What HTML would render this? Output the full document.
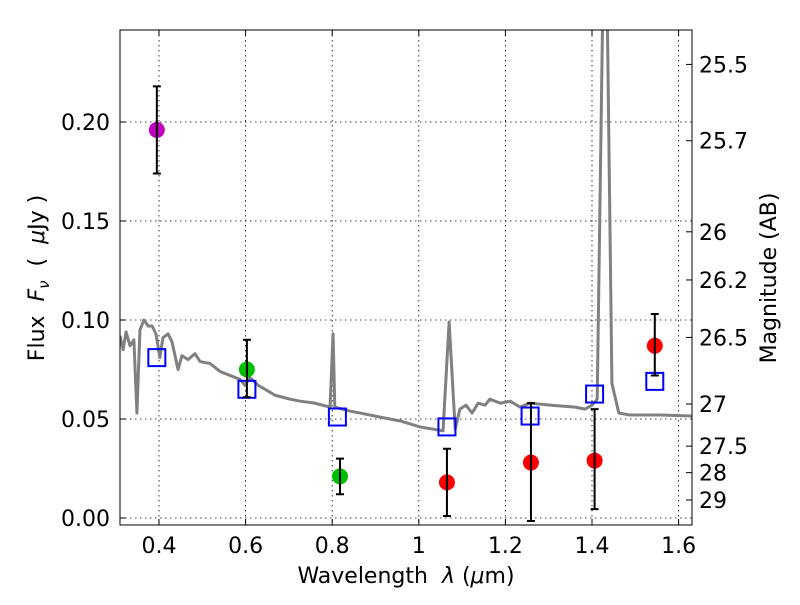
<!DOCTYPE html>
<html><head><meta charset="utf-8"><style>
body{margin:0;background:#fff;}
svg text{font-family:"DejaVu Sans","Liberation Sans",sans-serif;font-size:22px;fill:#000;}
</style></head><body>
<svg id="chart" width="800" height="600" xmlns="http://www.w3.org/2000/svg">
<defs><clipPath id="clip"><rect x="120" y="30" width="572" height="495"/></clipPath></defs>
<g id="grid"></g>
<g id="spec" clip-path="url(#clip)"></g>
<g id="marks" clip-path="url(#clip)"></g>
<rect x="120" y="30" width="572" height="495" fill="none" stroke="#000" stroke-width="1"/>
<g id="axes"></g>
<text x="406" y="583" text-anchor="middle">Wavelength&#160;&#160;<tspan font-style="italic">λ</tspan> (<tspan font-style="italic">μ</tspan>m)</text>
<text transform="translate(44,278) rotate(-90)" text-anchor="middle">Flux&#160;&#160;<tspan font-style="italic">F</tspan><tspan font-style="italic" font-size="15" dy="5">ν</tspan><tspan dy="-5">&#160;&#160;(&#160;&#160;</tspan><tspan font-style="italic">μ</tspan>Jy )</text>
<text transform="translate(776,278) rotate(-90)" text-anchor="middle">Magnitude (AB)</text>
</svg>
<script>
const specLam=[0.310,0.317,0.324,0.333,0.342,0.349,0.356,0.365,0.375,0.384,0.393,0.402,0.409,0.421,0.430,0.444,0.453,0.467,0.483,0.495,0.518,0.541,0.564,0.587,0.599,0.610,0.629,0.645,0.668,0.703,0.726,0.760,0.795,0.802,0.806,0.841,0.910,0.957,1.003,1.056,1.070,1.084,1.095,1.109,1.123,1.137,1.153,1.164,1.188,1.211,1.234,1.257,1.303,1.361,1.384,1.400,1.412,1.425,1.435,1.446,1.462,1.488,1.557,1.631];
const specFlux=[0.092,0.085,0.094,0.087,0.090,0.053,0.095,0.100,0.097,0.097,0.093,0.081,0.091,0.093,0.089,0.075,0.082,0.080,0.083,0.079,0.078,0.074,0.072,0.070,0.067,0.071,0.067,0.065,0.062,0.060,0.059,0.058,0.056,0.093,0.056,0.054,0.051,0.049,0.046,0.044,0.099,0.045,0.055,0.057,0.053,0.058,0.057,0.060,0.058,0.059,0.056,0.058,0.057,0.056,0.055,0.057,0.060,0.260,0.260,0.068,0.053,0.052,0.052,0.0515];
const ptLam=[0.395,0.603,0.818,1.065,1.259,1.406,1.545];
const ptFlux=[0.196,0.075,0.021,0.018,0.028,0.029,0.087];
const ptLo=[0.174,0.061,0.012,0.001,-0.0015,0.0045,0.072];
const ptHi=[0.218,0.090,0.030,0.035,0.058,0.055,0.103];
const ptColor=["#bf00bf","#00bf00","#00bf00","#ff0000","#ff0000","#ff0000","#ff0000"];
const sqLam=[0.395,0.603,0.812,1.065,1.257,1.406,1.545];
const sqFlux=[0.081,0.065,0.051,0.046,0.0515,0.0626,0.069];
const xTicks=[0.4,0.6,0.8,1.0,1.2,1.4,1.6];
const xTickLabels=["0.4","0.6","0.8","1","1.2","1.4","1.6"];
const yTicks=[0,0.05,0.10,0.15,0.20];
const yTickLabels=["0.00","0.05","0.10","0.15","0.20"];
const magTicks=[25.5,25.7,26,26.2,26.5,27,27.5,28,29];

const X=l=>159+(l-0.4)*433;
const Y=f=>518-f*1980;
const NS="http://www.w3.org/2000/svg";
function mk(parent,tag,attrs){const e=document.createElementNS(NS,tag);for(const k in attrs)e.setAttribute(k,attrs[k]);document.getElementById(parent).appendChild(e);return e;}

xTicks.forEach((t,i)=>{
  const g=mk('grid','line',{x1:X(t),x2:X(t),y1:30,y2:525,stroke:'#000','stroke-width':0.8,'stroke-dasharray':'1.5,3.5'});
  
  
  const tk=mk('axes','line',{x1:X(t),x2:X(t),y1:525,y2:519,stroke:'#000'});
  
  
  const tk2=mk('axes','line',{x1:X(t),x2:X(t),y1:30,y2:36,stroke:'#000'});
  
  
  const tx=mk('axes','text',{x:X(t),y:553,'text-anchor':'middle'});tx.textContent=xTickLabels[i];
  
  
});
yTicks.forEach((t,i)=>{
  const g=mk('grid','line',{x1:120,x2:692,y1:Y(t),y2:Y(t),stroke:'#000','stroke-width':0.8,'stroke-dasharray':'1.5,3.5'});
  
  
  const tk=mk('axes','line',{x1:120,x2:126,y1:Y(t),y2:Y(t),stroke:'#000'});
  
  
  const tx=mk('axes','text',{x:110,y:Y(t)+8,'text-anchor':'end'});tx.textContent=yTickLabels[i];
  
  
});
magTicks.forEach(m=>{
  const f=Math.pow(10,(23.9-m)/2.5);
  const tk=mk('axes','line',{x1:686,x2:692,y1:Y(f),y2:Y(f),stroke:'#000'});
  
  
  const tx=mk('axes','text',{x:699,y:Y(f)+8,'text-anchor':'start'});tx.textContent=String(m);
  
  
});
const sp=mk('spec','polyline',{points:specLam.map((l,i)=>X(l)+','+Y(specFlux[i])).join(' '),fill:'none',stroke:'#808080','stroke-width':3,'stroke-linejoin':'round'});


sqLam.forEach((l,i)=>{
  const r=mk('marks','rect',{x:X(l)-8.5,y:Y(sqFlux[i])-8.5,width:17,height:17,fill:'none',stroke:'#0000ff','stroke-width':2});
  
  
});
ptLam.forEach((l,i)=>{
  const c=mk('marks','circle',{cx:X(l),cy:Y(ptFlux[i]),r:8,fill:ptColor[i]});
  
  
  const x=X(l),y1=Y(ptHi[i]),y2=Y(ptLo[i]);
  const e=mk('marks','path',{d:`M${x},${y1}V${y2}M${x-4},${y1}H${x+4}M${x-4},${y2}H${x+4}`,stroke:'#000','stroke-width':2,fill:'none'});
  
  
});
</script>
</body></html>
